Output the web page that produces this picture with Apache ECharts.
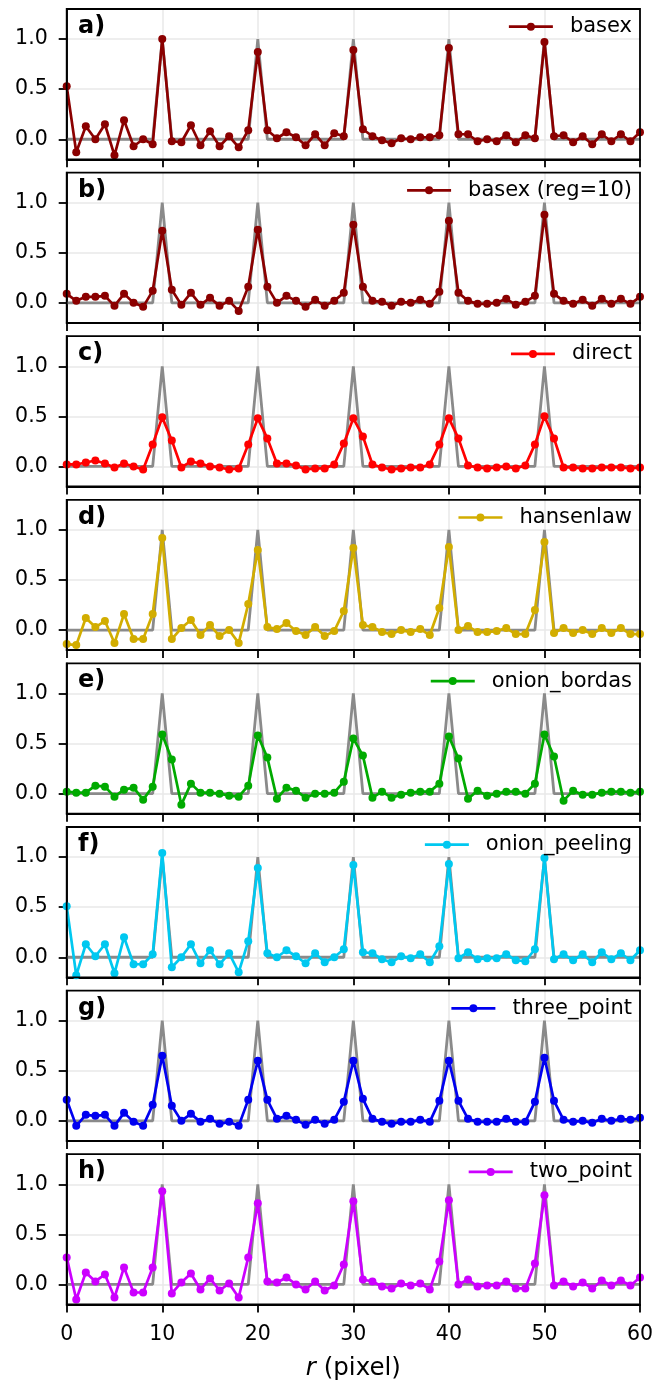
<!DOCTYPE html>
<html>
<head>
<meta charset="utf-8">
<script src="https://cdn.jsdelivr.net/npm/echarts@6/dist/echarts.min.js"></script>
<style>
  html, body { margin: 0; padding: 0; background: #fff; }
  #chart { width: 665px; height: 1381px; }
</style>
</head>
<body>
<div id="chart"></div>
<script>
// radius samples (pixel)
const r = [0, 1, 2, 3, 4, 5, 6, 7, 8, 9, 10, 11, 12, 13, 14, 15, 16, 17, 18, 19,
  20, 21, 22, 23, 24, 25, 26, 27, 28, 29, 30, 31, 32, 33, 34, 35, 36, 37, 38, 39,
  40, 41, 42, 43, 44, 45, 46, 47, 48, 49, 50, 51, 52, 53, 54, 55, 56, 57, 58, 59, 60];

// reference profile (grey)
const refLine = [0, 0, 0, 0, 0, 0, 0, 0, 0, 0, 1, 0, 0, 0, 0, 0, 0, 0, 0, 0,
  1, 0, 0, 0, 0, 0, 0, 0, 0, 0, 1, 0, 0, 0, 0, 0, 0, 0, 0, 0,
  1, 0, 0, 0, 0, 0, 0, 0, 0, 0, 1, 0, 0, 0, 0, 0, 0, 0, 0, 0, 0];

const basex = [0.53, -0.13, 0.13, 0.00, 0.15, -0.16, 0.19, -0.07, 0.00, -0.05,
  1.00, -0.02, -0.03, 0.14, -0.06, 0.08, -0.07, 0.03, -0.08, 0.09,
  0.87, 0.09, 0.01, 0.07, 0.02, -0.06, 0.05, -0.06, 0.06, 0.03,
  0.89, 0.10, 0.03, -0.01, -0.04, 0.01, 0.00, 0.02, 0.02, 0.04,
  0.91, 0.05, 0.05, -0.02, 0.00, -0.02, 0.04, -0.03, 0.04, 0.01,
  0.97, 0.03, 0.04, -0.03, 0.03, -0.05, 0.05, -0.02, 0.05, -0.02, 0.07];

const basexReg = [0.09, 0.02, 0.06, 0.06, 0.07, -0.03, 0.09, 0.00, -0.04, 0.12,
  0.72, 0.13, -0.02, 0.10, -0.02, 0.05, -0.03, 0.02, -0.08, 0.16,
  0.73, 0.16, 0.00, 0.07, 0.02, -0.04, 0.03, -0.03, 0.02, 0.10,
  0.78, 0.16, 0.02, 0.01, -0.03, 0.01, 0.00, 0.03, -0.01, 0.11,
  0.82, 0.10, 0.02, -0.01, -0.01, 0.00, 0.04, -0.02, 0.01, 0.07,
  0.88, 0.09, 0.02, -0.01, 0.03, -0.03, 0.04, -0.01, 0.04, -0.01, 0.06];

const direct = [0.02, 0.02, 0.04, 0.06, 0.03, -0.01, 0.03, 0.00, -0.03, 0.22,
  0.49, 0.26, -0.01, 0.05, 0.03, 0.00, -0.01, -0.03, -0.02, 0.22,
  0.48, 0.28, 0.03, 0.03, 0.01, -0.03, -0.02, -0.02, 0.02, 0.23,
  0.48, 0.30, 0.02, -0.01, -0.03, -0.02, -0.01, -0.01, 0.02, 0.22,
  0.48, 0.28, 0.01, -0.01, -0.02, -0.01, 0.00, -0.02, 0.01, 0.22,
  0.50, 0.28, -0.01, -0.01, -0.02, -0.02, -0.01, -0.01, -0.01, -0.02, -0.01];

const hansenlaw = [-0.14, -0.15, 0.12, 0.03, 0.09, -0.13, 0.16, -0.09, -0.09, 0.16,
  0.92, -0.09, 0.02, 0.10, -0.05, 0.05, -0.06, 0.00, -0.13, 0.26,
  0.80, 0.03, 0.01, 0.07, -0.01, -0.05, 0.03, -0.06, -0.01, 0.19,
  0.82, 0.05, 0.03, -0.02, -0.04, 0.00, -0.02, 0.01, -0.05, 0.22,
  0.83, 0.00, 0.04, -0.02, -0.02, -0.01, 0.02, -0.04, -0.04, 0.20,
  0.88, -0.03, 0.02, -0.03, 0.00, -0.04, 0.02, -0.03, 0.02, -0.04, -0.04];

const onionBordas = [0.02, 0.01, 0.01, 0.08, 0.07, -0.03, 0.04, 0.06, -0.06, 0.07,
  0.59, 0.34, -0.11, 0.10, 0.01, 0.01, 0.00, -0.02, -0.03, 0.08,
  0.58, 0.36, -0.05, 0.06, 0.03, -0.04, 0.00, 0.00, 0.01, 0.12,
  0.55, 0.38, -0.04, 0.02, -0.04, -0.01, 0.01, 0.02, 0.02, 0.10,
  0.57, 0.35, -0.05, 0.03, -0.02, 0.00, 0.02, 0.02, 0.00, 0.10,
  0.59, 0.37, -0.07, 0.03, -0.01, -0.01, 0.01, 0.02, 0.02, 0.01, 0.02];

const onionPeeling = [0.51, -0.18, 0.13, 0.01, 0.13, -0.16, 0.20, -0.07, -0.07, 0.03,
  1.04, -0.10, 0.00, 0.13, -0.06, 0.07, -0.07, 0.04, -0.15, 0.16,
  0.89, 0.04, 0.00, 0.07, 0.01, -0.06, 0.04, -0.05, 0.00, 0.08,
  0.92, 0.05, 0.04, -0.02, -0.05, 0.01, -0.01, 0.03, -0.05, 0.11,
  0.93, -0.01, 0.05, -0.02, -0.01, -0.01, 0.03, -0.03, -0.04, 0.08,
  0.99, -0.02, 0.03, -0.03, 0.03, -0.05, 0.05, -0.02, 0.04, -0.03, 0.07];

const threePoint = [0.21, -0.05, 0.06, 0.05, 0.06, -0.05, 0.08, -0.01, -0.05, 0.16,
  0.65, 0.15, 0.00, 0.07, -0.01, 0.02, -0.03, -0.01, -0.05, 0.21,
  0.60, 0.21, 0.02, 0.05, 0.01, -0.04, 0.01, -0.03, 0.01, 0.19,
  0.60, 0.22, 0.02, -0.01, -0.03, -0.01, -0.01, 0.01, -0.01, 0.20,
  0.60, 0.20, 0.02, -0.01, -0.01, -0.01, 0.02, -0.01, -0.01, 0.19,
  0.63, 0.20, 0.01, -0.01, 0.00, -0.02, 0.02, 0.00, 0.02, 0.01, 0.03];

const twoPoint = [0.27, -0.15, 0.12, 0.03, 0.10, -0.13, 0.17, -0.08, -0.08, 0.17,
  0.93, -0.09, 0.02, 0.11, -0.05, 0.06, -0.06, 0.01, -0.13, 0.27,
  0.81, 0.03, 0.02, 0.07, 0.00, -0.05, 0.03, -0.06, -0.01, 0.20,
  0.83, 0.05, 0.03, -0.02, -0.04, 0.01, -0.01, 0.01, -0.05, 0.23,
  0.84, 0.00, 0.05, -0.02, -0.01, -0.01, 0.03, -0.04, -0.04, 0.21,
  0.89, -0.01, 0.03, -0.02, 0.02, -0.04, 0.04, -0.01, 0.04, -0.01, 0.07];

const yTicks = [0, 0.5, 1.0];

const panels = [
  { label: 'a)', name: 'basex', color: '#8b0000', values: basex },
  { label: 'b)', name: 'basex (reg=10)', color: '#8b0000', values: basexReg },
  { label: 'c)', name: 'direct', color: '#ff0000', values: direct },
  { label: 'd)', name: 'hansenlaw', color: '#d2ad00', values: hansenlaw },
  { label: 'e)', name: 'onion_bordas', color: '#00aa00', values: onionBordas },
  { label: 'f)', name: 'onion_peeling', color: '#00c8f0', values: onionPeeling },
  { label: 'g)', name: 'three_point', color: '#0000f0', values: threePoint },
  { label: 'h)', name: 'two_point', color: '#cc00ff', values: twoPoint }
];

const FONT = 'DejaVu Sans';
const gridLeft = 66.7, gridRight = 25, firstTop = 9, step = 163.6, gridH = 150.3;

const grid = [], xAxis = [], yAxis = [], series = [], legend = [], graphic = [];

panels.forEach((p, i) => {
  const top = firstTop + step * i;
  const last = i === panels.length - 1;

  grid.push({
    left: gridLeft, right: gridRight, top: top, height: gridH,
    show: true, borderColor: '#000', borderWidth: 1.8, z: 5,
    outerBoundsMode: 'none'
  });

  xAxis.push({
    gridIndex: i, type: 'value', min: 0, max: 60, interval: 10,
    axisLine: { show: true, onZero: false, lineStyle: { color: '#000', width: 1.8 } },
    axisTick: { show: true, length: 8, lineStyle: { color: '#000', width: 1.8 } },
    axisLabel: { show: last, color: '#000', fontSize: 20.5, fontFamily: FONT, margin: 20 },
    splitLine: { show: true, lineStyle: { color: '#e8e8e8', width: 1.5 } },
    name: last ? '{it|r} (pixel)' : '',
    nameLocation: 'middle',
    nameGap: 52,
    nameTextStyle: {
      color: '#000', fontSize: 24.5, fontFamily: FONT,
      rich: { it: { fontStyle: 'italic', fontSize: 24.5, fontFamily: FONT, color: '#000' } }
    }
  });

  yAxis.push({
    gridIndex: i, type: 'value', min: -0.2, max: 1.3,
    axisLine: { show: true, onZero: false, lineStyle: { color: '#000', width: 1.8 } },
    axisTick: { show: true, length: 8, customValues: yTicks, lineStyle: { color: '#000', width: 1.8 } },
    axisLabel: {
      customValues: yTicks, color: '#000', fontSize: 20.5, fontFamily: FONT, margin: 19,
      formatter: v => v.toFixed(1)
    },
    splitLine: { show: true, lineStyle: { color: '#e8e8e8', width: 1.5 } }
  });

  series.push({
    type: 'line', xAxisIndex: i, yAxisIndex: i,
    data: r.map((x, k) => [x, refLine[k]]),
    showSymbol: false, silent: true, z: 2,
    lineStyle: { color: '#8a8a8a', width: 2.8 },
    itemStyle: { color: '#8a8a8a' }
  });

  series.push({
    type: 'line', name: p.name, xAxisIndex: i, yAxisIndex: i,
    data: r.map((x, k) => [x, p.values[k]]),
    symbol: 'circle', symbolSize: 8, showAllSymbol: true, z: 3,
    itemStyle: { color: p.color },
    lineStyle: { color: p.color, width: 2.7 }
  });

  legend.push({
    data: [p.name], right: 33, top: top + 7.2, padding: 0,
    itemWidth: 44, itemHeight: 10, selectedMode: false,
    lineStyle: { width: 2.7 },
    textStyle: { color: '#000', fontSize: 21, fontFamily: FONT, padding: [0, 0, 0, 12] }
  });

  graphic.push({
    type: 'text', x: 78, y: top + 17.7,
    style: { text: p.label, font: 'bold 24px "DejaVu Sans"', fill: '#000', verticalAlign: 'middle' }
  });
});

const option = {
  animation: false,
  backgroundColor: '#fff',
  grid, xAxis, yAxis, series, legend, graphic
};

const myChart = echarts.init(document.getElementById('chart'));
myChart.setOption(option);
</script>
</body>
</html>
